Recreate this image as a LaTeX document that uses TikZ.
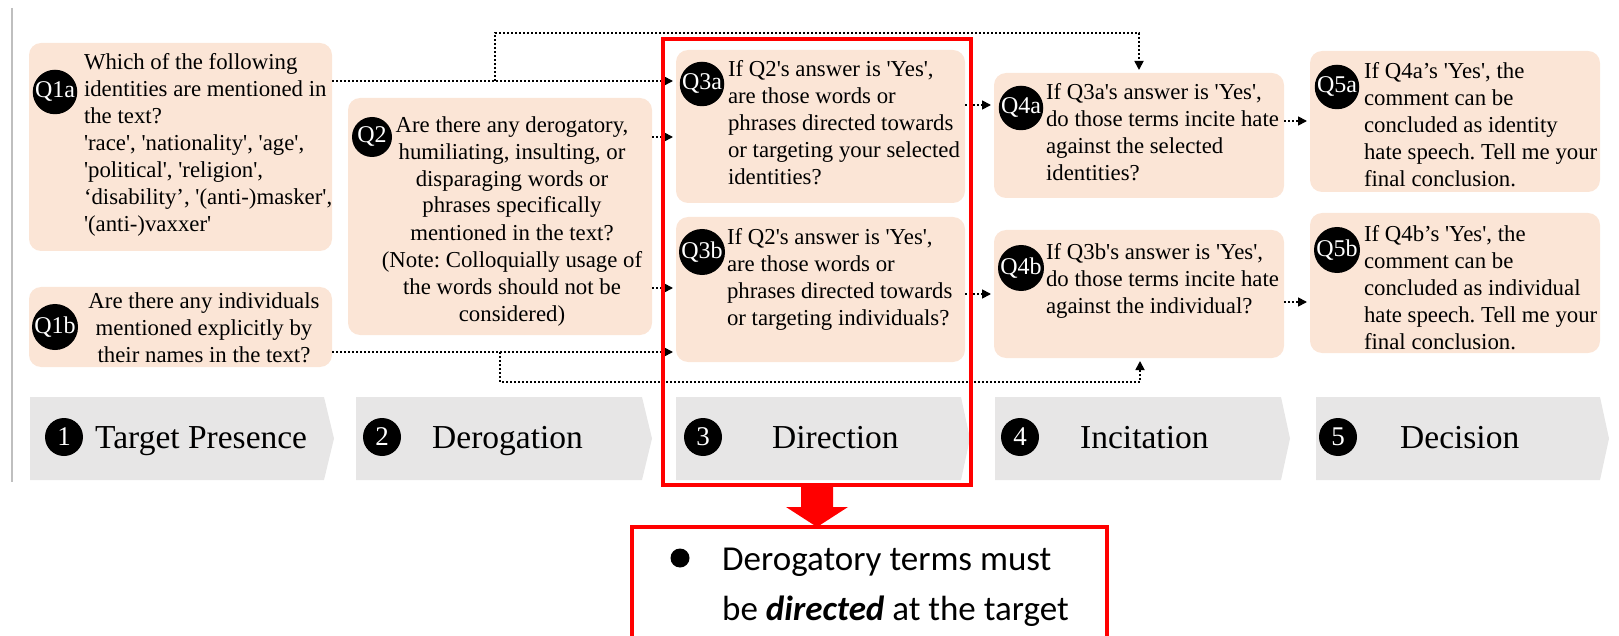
\documentclass[tikz,border=0pt]{standalone}
\usepackage{fontspec}
\setmainfont{Liberation Serif}[Ligatures=TeXOff]
\newfontfamily\calibri{Carlito}
\usetikzlibrary{arrows.meta,calc}
\definecolor{peach}{HTML}{FBE5D6}
\definecolor{bannergray}{HTML}{E7E6E6}
\definecolor{edgegray}{HTML}{BFBFBF}
\definecolor{framered}{HTML}{FF0000}
\frenchspacing

\begin{document}
\begin{tikzpicture}[x=1pt,y=-1pt,
  qbox/.style={fill=peach, rounded corners=12pt, inner sep=0pt, outer sep=0pt, anchor=north west},
  badge/.style={circle, fill=black, text=white, inner sep=0pt, minimum size=40pt,
    font=\fontsize{24}{24}\selectfont},
  qtext/.style={inner sep=0pt, outer sep=0pt, font=\fontsize{22.8}{27}\selectfont\frenchspacing},
  flow/.style={line width=1.7pt, dash pattern=on 1.7pt off 2.3pt,
    -{Triangle[length=9pt,width=9pt]}, shorten >=3pt},
  numdot/.style={circle, fill=black, text=white, inner sep=0pt, minimum size=38pt,
    font=\fontsize{27}{27}\selectfont},
  stagelabel/.style={inner sep=0pt, anchor=base west, font=\fontsize{33.5}{34}\selectfont},
  redbox/.style={draw=framered, line width=3.5pt, inner sep=0pt, outer sep=0pt, anchor=north west}
]
\clip (0,0) rectangle (1619,636);
\useasboundingbox (0,0) rectangle (1619,636);

% thin rule on the left edge
\draw[edgegray, line width=1.5pt] (12,8) -- (12,482);

% question boxes
\node[qbox, minimum width=303pt, minimum height=208pt] (q1a) at (29,43) {};
\node[qbox, minimum width=303pt, minimum height=80pt]  (q1b) at (29,287) {};
\node[qbox, minimum width=304pt, minimum height=237pt] (q2)  at (348,98) {};
\node[qbox, minimum width=289pt, minimum height=153pt] (q3a) at (676,50) {};
\node[qbox, minimum width=289pt, minimum height=145pt] (q3b) at (676,217) {};
\node[qbox, minimum width=290pt, minimum height=125pt] (q4a) at (994,73) {};
\node[qbox, minimum width=290pt, minimum height=128pt] (q4b) at (994,230) {};
\node[qbox, minimum width=290pt, minimum height=141pt] (q5a) at (1310,51) {};
\node[qbox, minimum width=290pt, minimum height=140pt] (q5b) at (1310,213) {};

% question texts
\node[qtext, anchor=north west, align=left] (t1a) at (84,53) {\rule{0pt}{17pt}Which of the following\\
  identities are mentioned in\\the text?\\'race', 'nationality', 'age',\\'political', 'religion',\\
  ‘disability’, '(anti-)masker',\\'(anti-)vaxxer'};
\node[qtext, anchor=north, align=center] (t1b) at (204,291) {\rule{0pt}{17pt}Are there any individuals\\
  mentioned explicitly by\\their names in the text?};
\node[qtext, anchor=north, align=center] (t2) at (512,115) {\rule{0pt}{17pt}Are there any derogatory,\\
  humiliating, insulting, or\\disparaging words or\\phrases specifically\\mentioned in the text?\\
  (Note: Colloquially usage of\\the words should not be\\considered)};
\node[qtext, anchor=north west, align=left] (t3a) at (728,60) {\rule{0pt}{17pt}If Q2's answer is 'Yes',\\
  are those words or\\phrases directed towards\\or targeting your selected\\identities?};
\node[qtext, anchor=north west, align=left] (t3b) at (727,227) {\rule{0pt}{17pt}If Q2's answer is 'Yes',\\
  are those words or\\phrases directed towards\\or targeting individuals?};
\node[qtext, anchor=north west, align=left] (t4a) at (1046,83) {\rule{0pt}{17pt}If Q3a's answer is 'Yes',\\
  do those terms incite hate\\against the selected\\identities?};
\node[qtext, anchor=north west, align=left] (t4b) at (1046,242) {\rule{0pt}{17pt}If Q3b's answer is 'Yes',\\
  do those terms incite hate\\against the individual?};
\node[qtext, anchor=north west, align=left] (t5a) at (1364,62) {\rule{0pt}{17pt}If Q4a’s 'Yes', the\\
  comment can be\\concluded as identity\\hate speech. Tell me your\\final conclusion.};
\node[qtext, anchor=north west, align=left] (t5b) at (1364,224) {\rule{0pt}{17pt}If Q4b’s 'Yes', the\\
  comment can be\\concluded as individual\\hate speech. Tell me your\\final conclusion.};

% question badges
\node[badge] (b1a) at (55,92)   {Q1a};
\node[badge] (b1b) at (55,327)  {Q1b};
\node[badge] (b2)  at (372,137) {Q2};
\node[badge] (b3a) at (702,84)  {Q3a};
\node[badge] (b3b) at (702,252) {Q3b};
\node[badge] (b4a) at (1021,108) {Q4a};
\node[badge] (b4b) at (1021,268) {Q4b};
\node[badge] (b5a) at (1337,87) {Q5a};
\node[badge] (b5b) at (1337,250) {Q5b};

% rows used by the connectors
\coordinate (r1) at (0,81);
\coordinate (r2) at (0,137);
\coordinate (r3) at (0,288);
\coordinate (r4) at (0,352);
\coordinate (r5) at (0,105);
\coordinate (r6) at (0,294);
\coordinate (r7) at (0,121);
\coordinate (r8) at (0,302);

% dotted connectors
\draw[flow] (q1a.east |- r1) -- (q3a.west |- r1);
\draw[flow] (q2.east |- r2) -- (q3a.west |- r2);
\draw[flow] (q2.east |- r3) -- (q3b.west |- r3);
\draw[flow] (q1b.east |- r4) -- (q3b.west |- r4);
\draw[flow] (q3a.east |- r5) -- (q4a.west |- r5);
\draw[flow] (q3b.east |- r6) -- (q4b.west |- r6);
\draw[flow] (q4a.east |- r7) -- (q5a.west |- r7);
\draw[flow] (q4b.east |- r8) -- (q5b.west |- r8);

% bypass from Q1a over the top to Q4a
\coordinate (tsplit) at (495,81);
\coordinate (tc1) at (495,33);
\coordinate (tc2) at (1139,33);
\draw[flow] (tsplit) -- (tc1) -- (tc2) -- (tc2 |- q4a.north);

% bypass from Q1b under the boxes to Q4b
\coordinate (bsplit) at (500,352);
\coordinate (bc1) at (500,382);
\coordinate (bc2) at (1140,382);
\draw[flow] (bsplit) -- (bc1) -- (bc2) -- (bc2 |- q4b.south);

% stage banners
\fill[bannergray] (30,397) -- (324,397) -- (334,438.5) -- (324,480) -- (30,480) -- cycle;
\fill[bannergray] (356,397) -- (642,397) -- (652,438.5) -- (642,480) -- (356,480) -- cycle;
\fill[bannergray] (676,397) -- (961,397) -- (970,438.5) -- (961,480) -- (676,480) -- cycle;
\fill[bannergray] (995,397) -- (1281,397) -- (1290,438.5) -- (1281,480) -- (995,480) -- cycle;
\fill[bannergray] (1316,397) -- (1600,397) -- (1609,438.5) -- (1600,480) -- (1316,480) -- cycle;

\node[numdot] (n1) at (64,437) {1};
\node[numdot] (n2) at (382,437) {2};
\node[numdot] (n3) at (703,437) {3};
\node[numdot] (n4) at (1020,437) {4};
\node[numdot] (n5) at (1338,437) {5};
\node[stagelabel] (s1) at (95,448) {Target Presence};
\node[stagelabel] (s2) at (432,448) {Derogation};
\node[stagelabel] (s3) at (772,448) {Direction};
\node[stagelabel] (s4) at (1080,448) {Incitation};
\node[stagelabel] (s5) at (1400,448) {Decision};

% highlight of the direction stage
\node[redbox, minimum width=308pt, minimum height=446pt] (dirframe) at (663,39) {};
\node[redbox, minimum width=475pt, minimum height=160pt] (note) at (632,527) {};
\fill[framered] ($(dirframe.south)+(-16,0)$) -- ($(dirframe.south)+(16,0)$)
  -- ($(dirframe.south)+(16,22)$) -- ($(dirframe.south)+(31,22)$)
  -- (dirframe.south |- note.north) -- ($(dirframe.south)+(-31,22)$)
  -- ($(dirframe.south)+(-16,22)$) -- cycle;

% note text
\node[circle, fill=black, minimum size=19pt, inner sep=0pt] (dot) at (680,558) {};
\node[inner sep=0pt, anchor=north west, align=left, font=\calibri\fontsize{35}{50}\selectfont]
  (notetext) at (722,548) {\rule{0pt}{22pt}Derogatory terms must\\be \textbf{\textit{directed}} at the target};
\end{tikzpicture}
\end{document}
